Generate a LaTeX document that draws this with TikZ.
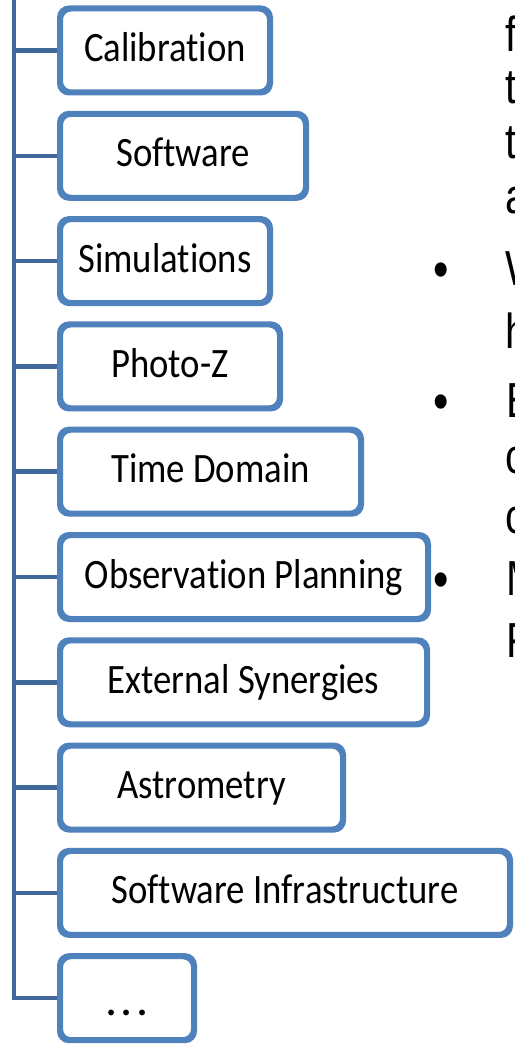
\documentclass[tikz,border=0pt]{standalone}
\usepackage{fontspec}
\setmainfont[Ligatures=NoCommon]{Carlito}
\newfontfamily\arialf{Liberation Sans}
\usepackage{graphicx}
\definecolor{boxblue}{HTML}{4F81BD}
\definecolor{linkblue}{HTML}{41689B}
\newcommand\tallt[1]{\scalebox{1}[1.14]{#1}}
\newcommand\tallr[1]{\scalebox{1}[1.2]{#1}}
\begin{document}
\begin{tikzpicture}[x=1pt,y=-1pt,
  box/.style={draw=boxblue, line width=4pt, rounded corners=10pt, fill=white,
    minimum height=82pt, anchor=west, inner sep=0pt, text height=28pt, text depth=6pt,
    font=\fontsize{36.7}{40}\selectfont},
  conn/.style={draw=linkblue, line width=4.5pt},
  side/.style={anchor=base west, inner sep=0pt, font=\arialf\fontsize{41}{44}\selectfont},
  bul/.style={anchor=base, inner sep=0pt, font=\arialf\fontsize{44}{46}\selectfont}]
\useasboundingbox (0,0) rectangle (514,1046);
\clip (0,0) rectangle (514,1046);
\fill[white] (0,0) rectangle (514,1046);
\coordinate (tk) at (14,-5);
% boxes
\node[box, minimum width=208pt] (b1) at (59,50.5) {\tallt{Calibration}};
\node[box, minimum width=244pt] (b2) at (59,155.8) {\tallt{Software}};
\node[box, minimum width=208pt] (b3) at (59,261.1) {\tallt{Simulations}};
\node[box, minimum width=218pt] (b4) at (59,366.4) {\tallt{Photo-Z}};
\node[box, minimum width=299pt] (b5) at (59,471.7) {\tallt{Time Domain}};
\node[box, minimum width=366pt] (b6) at (59,577) {\tallt{Observat\kern0pt ion Planning}};
\node[box, minimum width=365pt] (b7) at (59,682.3) {\tallt{External Synergies}};
\node[box, minimum width=281pt] (b8) at (59,787.6) {\tallt{Astrometry}};
\node[box, minimum width=448pt] (b9) at (59,892.9) {\tallt{Software Infrastructure}};
\node[box, minimum width=132pt, text height=34pt, text depth=0pt] (b10) at (59,998.2)
  {\fontsize{48}{50}\selectfont .\kern3pt.\kern3pt.};
% connectors
\draw[conn] (tk) |- (b10.west);
\foreach \b in {b1,b2,b3,b4,b5,b6,b7,b8,b9}{
  \draw[conn] (tk |- \b.west) -- (\b.west);
}
% redraw box borders over connectors
\foreach \b in {b1,b2,b3,b4,b5,b6,b7,b8,b9,b10}{
  \draw[boxblue, line width=4pt, rounded corners=10pt] (\b.south west) rectangle (\b.north east);
}
% cut-off text on the right
\node[side] (r1) at (505,52) {\tallr{f}};
\node[side] (r2) at (505,104) {\tallr{t}};
\node[side] (r3) at (505,158) {\tallr{t}};
\node[side] (r4) at (505,213) {\tallr{a}};
\node[bul] (d1) at (441,287) {\tallr{•}};
\node[side] (r5) at (505,285) {\tallr{W}};
\node[side] (r6) at (505,348) {\tallr{h}};
\node[bul] (d2) at (441,419) {\tallr{•}};
\node[side] (r7) at (506,417) {\tallr{E}};
\node[side] (r8) at (505,473) {\tallr{c}};
\node[side] (r9) at (505,533) {\tallr{c}};
\node[bul] (d3) at (441,597) {\tallr{•}};
\node[side] (r10) at (506,595) {\tallr{M}};
\node[side] (r11) at (506,657) {\tallr{F}};
\end{tikzpicture}
\end{document}
